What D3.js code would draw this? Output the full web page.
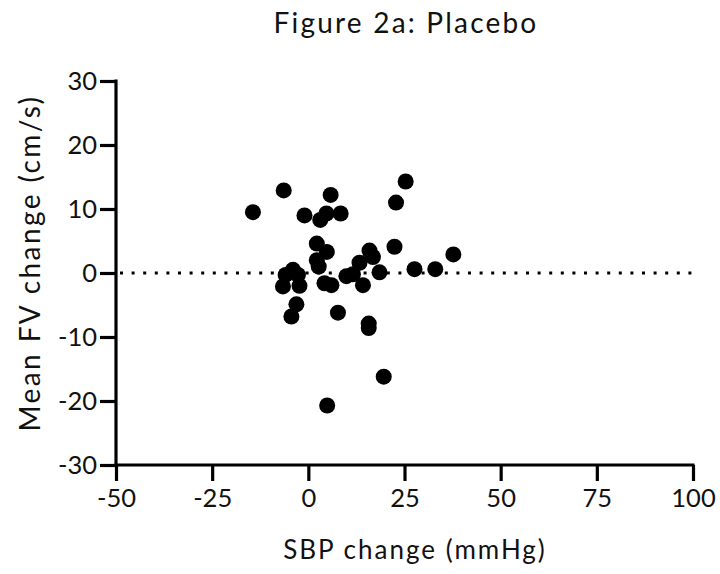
<!DOCTYPE html>
<html><head><meta charset="utf-8">
<script src="https://cdn.jsdelivr.net/npm/d3@7"></script>
<style>body{margin:0;background:#fff}</style>
</head><body><svg id="c" width="720" height="574"></svg>
<script>
const sbpChange = [-14.4,-6.4,-1.0,5.8,4.7,3.1,8.4,25.3,22.8,2.2,4.8,2.2,2.7,-4.0,-5.9,-2.7,-6.6,-2.3,-3.1,-4.4,4.2,6.0,7.7,9.9,11.6,13.3,15.9,16.8,18.5,14.2,15.7,15.7,22.4,27.6,33.0,37.7,19.6,4.9];
const fvChange  = [9.5,12.9,9.0,12.2,9.3,8.3,9.3,14.3,11.0,4.6,3.3,2.0,1.0,0.5,-0.3,-0.3,-2.1,-2.0,-4.9,-6.8,-1.6,-1.9,-6.2,-0.5,-0.2,1.6,3.5,2.5,0.1,-1.9,-7.9,-8.6,4.1,0.6,0.6,2.9,-16.2,-20.7];
const xTicks = [-50,-25,0,25,50,75,100];
const yTicks = [-30,-20,-10,0,10,20,30];
const title = "Figure 2a: Placebo";
const xTitle = "SBP change (mmHg)";
const yTitle = "Mean FV change (cm/s)";

const svg = d3.select("#c");
const font = "Lato, 'Open Sans', sans-serif";
const x = d3.scaleLinear().domain([-50,100]).range([116,693]);
const y = d3.scaleLinear().domain([-30,30]).range([465,81]);
const fmt = d => String(d);

// zero reference dotted line
svg.append("line").attr("x1",x(-50)+4).attr("x2",x(100)).attr("y1",y(0)).attr("y2",y(0))
  .attr("stroke","#000").attr("stroke-width",3).attr("stroke-dasharray","3 8.6");

const xa = svg.append("g").attr("transform",`translate(0,${y(-30)})`)
  .call(d3.axisBottom(x).tickValues(xTicks).tickFormat(fmt).tickSize(16).tickPadding(8).tickSizeOuter(0));
const ya = svg.append("g").attr("transform",`translate(${x(-50)},0)`)
  .call(d3.axisLeft(y).tickValues(yTicks).tickFormat(fmt).tickSize(16).tickPadding(3).tickSizeOuter(0));
[xa,ya].forEach(a=>{
  a.select(".domain").attr("stroke","#000").attr("stroke-width",3.2);
  a.selectAll(".tick line").attr("stroke","#000").attr("stroke-width",3.2);
  a.selectAll("text").attr("fill","#111").style("font-family",font).style("font-size","25.5px");
});
ya.select(".domain").attr("d",`M0,${y(30)-1.5}V${y(-30)+1.5}`);
xa.select(".domain").attr("d",`M${x(-50)-1.5},0H${x(100)+1.5}`);

svg.append("g").selectAll("circle").data(sbpChange).join("circle")
  .attr("cx",d=>x(d)).attr("cy",(d,i)=>y(fvChange[i])).attr("r",8).attr("fill","#000");

svg.append("text").attr("x",406).attr("y",33).attr("text-anchor","middle")
  .style("font-family",font).style("font-size","28px").style("letter-spacing","2.2px").attr("fill","#111").text(title);
svg.append("text").attr("x",415).attr("y",559).attr("text-anchor","middle")
  .style("font-family",font).style("font-size","26px").style("letter-spacing","2px").attr("fill","#111").text(xTitle);
svg.append("text").attr("transform","translate(40,263) rotate(-90)").attr("text-anchor","middle")
  .style("font-family",font).style("font-size","28px").style("letter-spacing","2.4px").attr("fill","#111").text(yTitle);
</script></body></html>
